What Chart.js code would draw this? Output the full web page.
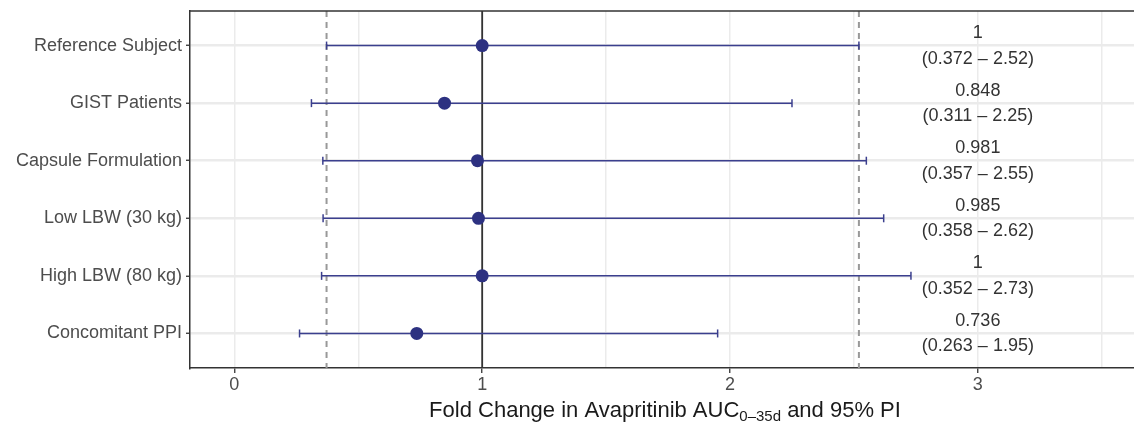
<!DOCTYPE html>
<html>
<head>
<meta charset="utf-8">
<script src="https://cdn.jsdelivr.net/npm/chart.js@4.4.0/dist/chart.umd.min.js"></script>
<style>
  html, body { margin: 0; padding: 0; background: #fff; overflow: hidden; }
  #wrap { width: 1134px; height: 423px; }
</style>
</head>
<body>
<div id="wrap"><canvas id="forest"></canvas></div>
<script>
// Covariate scenarios (top to bottom) and simulated fold change with 95% PI
const categories = [
    'Reference Subject',
    'GIST Patients',
    'Capsule Formulation',
    'Low LBW (30 kg)',
    'High LBW (80 kg)',
    'Concomitant PPI',
];
const median = [1, 0.848, 0.981, 0.985, 1, 0.736];
const lower = [0.372, 0.311, 0.357, 0.358, 0.352, 0.263];
const upper = [2.52, 2.25, 2.55, 2.62, 2.73, 1.95];
const xTicks = [0, 0.5, 1, 1.5, 2, 2.5, 3, 3.5];
const xTickLabels = ['0', '', '1', '', '2', '', '3', ''];
const unityLine = 1;
const piBounds = [0.372, 2.52]; // reference subject PI, dashed lines
const labelColumnX = 3;

const navy = '#2d3181';
const fontFamily = '"Liberation Sans", Arial, sans-serif';
const rows = categories.map((c, i) => i + 1);

// one line dataset per error bar, caps drawn as rotated 'line' points
const errorBars = rows.map((r, i) => ({
    type: 'line',
    data: [{ x: lower[i], y: r }, { x: upper[i], y: r }],
    borderColor: '#3b3f8e',
    borderWidth: 1.5,
    pointStyle: 'line',
    rotation: 90,
    pointRadius: 4,
    pointBorderColor: '#3b3f8e',
    pointBorderWidth: 1.5,
    order: 2,
}));

const refLines = [
    {
        type: 'line',
        data: [{ x: unityLine, y: 0.4 }, { x: unityLine, y: 6.6 }],
        borderColor: '#333333',
        borderWidth: 1.8,
        pointRadius: 0,
        order: 3,
    },
    ...piBounds.map(v => ({
        type: 'line',
        data: [{ x: v, y: 0.4 }, { x: v, y: 6.6 }],
        borderColor: '#999999',
        borderWidth: 2,
        borderDash: [6, 5],
        pointRadius: 0,
        order: 4,
    })),
];

// text column with median and PI, plus top border and axis title with subscript
const annotations = {
    id: 'annotations',
    afterDraw(chart) {
        const { ctx, chartArea, scales: { x, y } } = chart;
        ctx.save();
        // top border
        ctx.strokeStyle = '#333333';
        ctx.lineWidth = 1.5;
        ctx.beginPath();
        ctx.moveTo(chartArea.left, chartArea.top);
        ctx.lineTo(chartArea.right, chartArea.top);
        ctx.stroke();

        ctx.font = '18px ' + fontFamily;
        ctx.fillStyle = '#333333';
        ctx.textAlign = 'center';
        ctx.textBaseline = 'middle';
        const px = x.getPixelForValue(labelColumnX);
        rows.forEach((r, i) => {
            const py = y.getPixelForValue(r);
            ctx.fillText(String(median[i]), px, py - 12.5);
            ctx.fillText('(' + lower[i] + ' \u2013 ' + upper[i] + ')', px, py + 13);
        });

        // x axis title
        const main1 = 'Fold Change in Avapritinib AUC';
        const sub = '0\u201335d';
        const main2 = ' and 95% PI';
        const bigFont = '22px ' + fontFamily;
        const smallFont = '15px ' + fontFamily;
        ctx.font = bigFont;
        const w1 = ctx.measureText(main1).width;
        const w3 = ctx.measureText(main2).width;
        ctx.font = smallFont;
        const w2 = ctx.measureText(sub).width;
        const cx = 665;
        let tx = cx - (w1 + w2 + w3) / 2;
        ctx.textAlign = 'left';
        ctx.textBaseline = 'alphabetic';
        ctx.fillStyle = '#1a1a1a';
        ctx.font = bigFont;
        ctx.fillText(main1, tx, 417);
        tx += w1;
        ctx.font = smallFont;
        ctx.fillText(sub, tx, 421);
        tx += w2;
        ctx.font = bigFont;
        ctx.fillText(main2, tx, 417);
        ctx.restore();
    }
};

new Chart(document.getElementById('forest').getContext('2d'), {
    type: 'scatter',
    data: {
        datasets: [
            {
                data: rows.map((r, i) => ({ x: median[i], y: r })),
                backgroundColor: navy,
                borderColor: navy,
                pointRadius: 6.5,
                pointBorderWidth: 0,
                order: 1,
            },
            ...errorBars,
            ...refLines,
        ]
    },
    options: {
        responsive: true,
        maintainAspectRatio: false,
        animation: false,
        layout: { autoPadding: false, padding: { top: 11, right: 0, bottom: 0, left: 0 } },
        plugins: {
            legend: { display: false },
            tooltip: { enabled: false },
        },
        scales: {
            x: {
                type: 'linear',
                min: -0.179,
                max: 3.63,
                afterBuildTicks: scale => { scale.ticks = xTicks.map(v => ({ value: v })); },
                afterFit: scale => { scale.height = 55; },
                ticks: {
                    autoSkip: false,
                    maxRotation: 0,
                    padding: 1,
                    color: '#4d4d4d',
                    font: { size: 18, family: fontFamily },
                    callback: (v, idx) => xTickLabels[idx],
                },
                grid: {
                    color: '#ebebeb',
                    lineWidth: 1.5,
                    tickLength: 5,
                    tickWidth: 1.3,
                    tickColor: c => (c.tick && Number.isInteger(c.tick.value)) ? '#333333' : 'rgba(0,0,0,0)',
                },
                border: { color: '#333333', width: 1.5 },
            },
            y: {
                type: 'linear',
                reverse: true,
                min: 0.4,
                max: 6.6,
                afterBuildTicks: scale => { scale.ticks = rows.map(v => ({ value: v })); },
                afterFit: scale => {
                    scale.width = 190;
                    scale.paddingTop = 0;
                    scale.paddingBottom = 0;
                },
                ticks: {
                    autoSkip: false,
                    padding: 4,
                    color: '#4d4d4d',
                    font: { size: 18, family: fontFamily },
                    callback: v => categories[v - 1] || '',
                },
                grid: {
                    color: '#ebebeb',
                    lineWidth: 2.5,
                    tickLength: 4,
                    tickWidth: 1.3,
                    tickColor: '#333333',
                },
                border: { color: '#333333', width: 1.5 },
            }
        }
    },
    plugins: [annotations]
});
</script>
</body>
</html>
